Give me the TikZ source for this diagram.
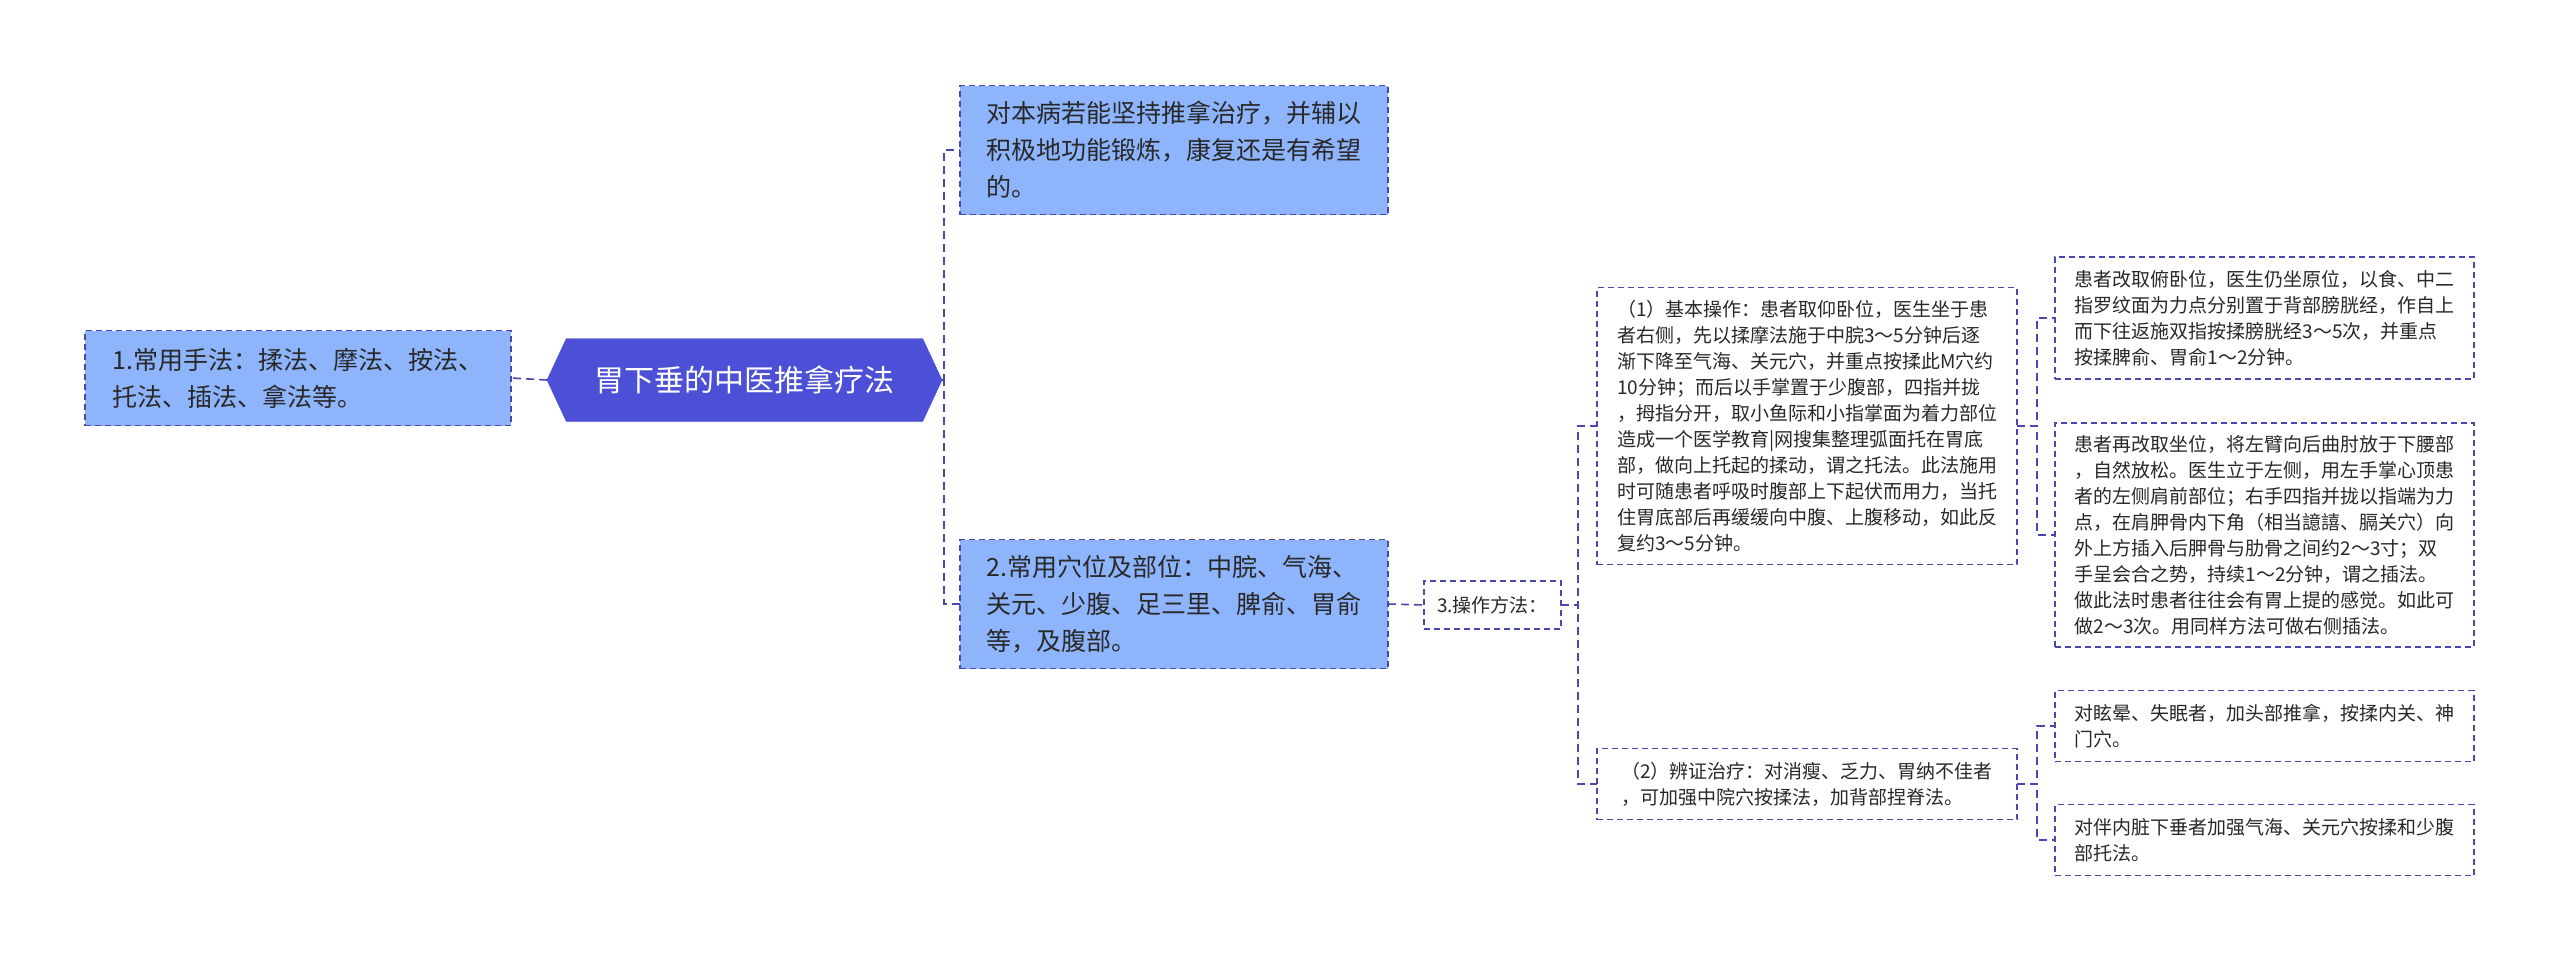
\documentclass[tikz,border=0pt]{standalone}
\usepackage{fontspec}
\setmainfont{Noto Sans CJK SC}
\usetikzlibrary{shapes.symbols}
\definecolor{lineblue}{RGB}{72,72,176}
\definecolor{lightfill}{RGB}{142,180,251}
\definecolor{rootfill}{RGB}{76,80,214}
\definecolor{txt}{RGB}{40,40,40}
\tikzset{
  every node/.style={inner sep=0pt,outer sep=0pt},
  bigbox/.style={draw=lineblue,dashed,dash pattern=on 6pt off 4pt,line width=1.3pt,fill=lightfill,anchor=west,text=txt,align=left,font=\fontsize{25}{37}\selectfont,inner xsep=12pt,minimum width=428pt},
  smallbox/.style={draw=lineblue,dashed,dash pattern=on 6pt off 4pt,line width=1.3pt,fill=white,anchor=west,text=txt,align=left,font=\fontsize{19}{26}\selectfont,inner xsep=8pt,minimum width=420pt},
  conn/.style={draw=lineblue,dashed,dash pattern=on 8pt off 5pt,line width=1.6pt}
}
\begin{document}
\begin{tikzpicture}[x=1pt,y=-1pt]
\useasboundingbox (0,0) rectangle (2560,962);
\node[shape=signal,signal to=east and west,signal pointer angle=130,fill=rootfill,draw=rootfill,minimum width=395pt,minimum height=83pt,text=white,font=\fontsize{30}{36}\selectfont] (root) at (744.5,380) {胃下垂的中医推拿疗法};
\node[bigbox,minimum width=426pt,minimum height=95pt] (a) at (85,378) {1.常用手法：揉法、摩法、按法、\\托法、插法、拿法等。};
\node[bigbox,minimum height=129pt] (b) at (960,150) {对本病若能坚持推拿治疗，并辅以\\积极地功能锻炼，康复还是有希望\\的。};
\node[bigbox,minimum height=129pt] (c) at (960,604) {2.常用穴位及部位：中脘、气海、\\关元、少腹、足三里、脾俞、胃俞\\等，及腹部。};
\node[smallbox,minimum width=137pt,minimum height=48pt,inner xsep=6pt] (d) at (1424,605) {3.操作方法：};
\node[smallbox,minimum height=277pt] (e) at (1597,426) {（1）基本操作：患者取仰卧位，医生坐于患\\者右侧，先以揉摩法施于中脘3～5分钟后逐\\渐下降至气海、关元穴，并重点按揉此M穴约\\10分钟；而后以手掌置于少腹部，四指并拢\\，拇指分开，取小鱼际和小指掌面为着力部位\\造成一个医学教育|网搜集整理弧面托在胃底\\部，做向上托起的揉动，谓之托法。此法施用\\时可随患者呼吸时腹部上下起伏而用力，当托\\住胃底部后再缓缓向中腹、上腹移动，如此反\\复约3～5分钟。};
\node[smallbox,minimum height=71pt] (f) at (1597,784) {（2）辨证治疗：对消瘦、乏力、胃纳不佳者\\，可加强中院穴按揉法，加背部捏脊法。};
\node[smallbox,minimum width=419pt,minimum height=122pt] (g) at (2055,318) {患者改取俯卧位，医生仍坐原位，以食、中二\\指罗纹面为力点分别置于背部膀胱经，作自上\\而下往返施双指按揉膀胱经3～5次，并重点\\按揉脾俞、胃俞1～2分钟。};
\node[smallbox,minimum width=419pt,minimum height=224pt] (h) at (2055,535) {患者再改取坐位，将左臂向后曲肘放于下腰部\\，自然放松。医生立于左侧，用左手掌心顶患\\者的左侧肩前部位；右手四指并拢以指端为力\\点，在肩胛骨内下角（相当譩譆、膈关穴）向\\外上方插入后胛骨与肋骨之间约2～3寸；双\\手呈会合之势，持续1～2分钟，谓之插法。\\做此法时患者往往会有胃上提的感觉。如此可\\做2～3次。用同样方法可做右侧插法。};
\node[smallbox,minimum width=419pt,minimum height=71pt] (i) at (2055,726) {对眩晕、失眠者，加头部推拿，按揉内关、神\\门穴。};
\node[smallbox,minimum width=419pt,minimum height=71pt] (j) at (2055,840) {对伴内脏下垂者加强气海、关元穴按揉和少腹\\部托法。};
\draw[conn] (root.west) -- (a.east);
\draw[conn] (root.east) -- ++(2,0) |- (b.west);
\draw[conn] (root.east) -- ++(2,0) |- (c.west);
\draw[conn] (c.east) -- (d.west);
\draw[conn] (d.east) -- ++(17,0) |- (e.west);
\draw[conn] (d.east) -- ++(17,0) |- (f.west);
\draw[conn] (e.east) -- ++(20,0) |- (g.west);
\draw[conn] (e.east) -- ++(20,0) |- (h.west);
\draw[conn] (f.east) -- ++(20,0) |- (i.west);
\draw[conn] (f.east) -- ++(20,0) |- (j.west);
\end{tikzpicture}
\end{document}
